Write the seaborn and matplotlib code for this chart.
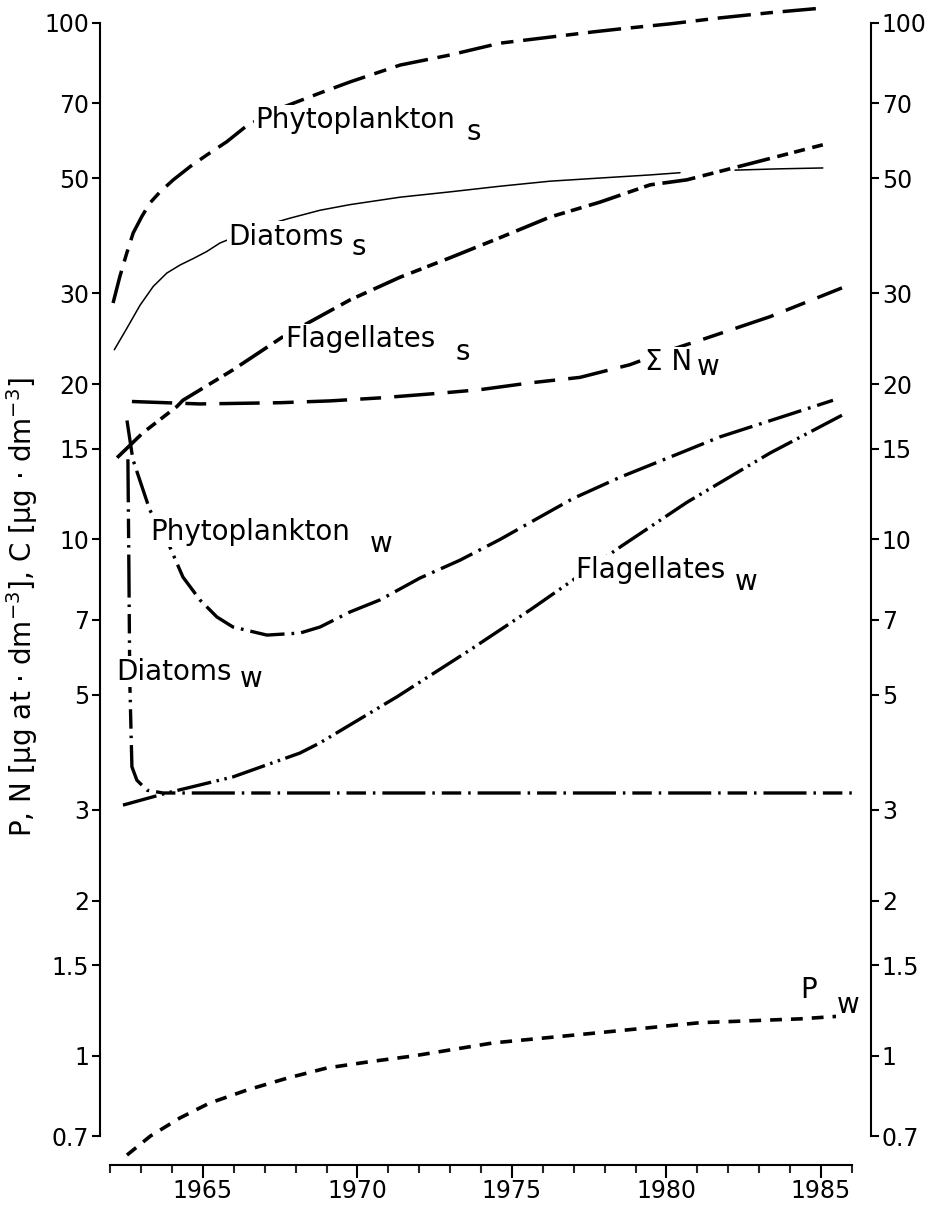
import matplotlib
matplotlib.use("Agg")
import numpy as np
import matplotlib.pyplot as plt
import seaborn as sns
from matplotlib.ticker import FixedLocator, FixedFormatter, NullLocator

# ---------------- data ----------------
phyto_s_year = [1962.09, 1962.31, 1962.53, 1962.74, 1963.02, 1963.28, 1963.61, 1964.04,
                1964.58, 1965.12, 1965.77, 1966.41, 1967.59, 1968.79, 1969.76, 1971.38,
                1972.99, 1974.61, 1976.23, 1977.62, 1978.50, 1980.10, 1981.73, 1983.35,
                1985.13]
phyto_s_val = [28.7, 32.3, 35.8, 39.2, 42.2, 44.8, 47.1, 49.7,
               52.7, 55.5, 58.9, 63.2, 68.7, 73.2, 76.9, 82.9,
               86.7, 91.4, 93.9, 96.1, 97.4, 99.6, 102.3, 104.7,
               107.0]

diatoms_s_year = [1962.13, 1962.53, 1962.96, 1963.39, 1963.83, 1964.26, 1964.69, 1965.12,
                  1965.55, 1966.84, 1967.82, 1968.79, 1969.76, 1971.38, 1972.99, 1974.61,
                  1976.23, 1977.85, 1979.47, 1980.44, np.nan, 1982.22, 1983.67, 1985.06]
diatoms_s_val = [23.3, 25.6, 28.4, 30.9, 32.8, 34.0, 35.0, 36.1,
                 37.5, 40.3, 41.9, 43.4, 44.5, 46.0, 47.1, 48.3,
                 49.4, 50.1, 50.8, 51.3, np.nan, 51.9, 52.2, 52.4]

flag_s_year = [1962.22, 1963.06, 1964.16, 1964.35, 1965.97, 1967.59, 1969.76, 1971.38,
               1972.99, 1974.61, 1976.23, 1977.85, 1979.47, 1980.66, 1982.80, 1985.06]
flag_s_val = [14.4, 16.1, 18.1, 18.6, 21.3, 24.7, 29.1, 32.2,
              35.1, 38.4, 42.1, 45.0, 48.6, 49.7, 53.6, 58.1]

sum_n_year = [1962.70, 1964.90, 1967.49, 1969.11, 1970.73, 1972.67, 1973.96, 1975.58,
              1977.20, 1978.82, 1979.95, 1981.08, 1983.35, 1985.68]
sum_n_val = [18.5, 18.3, 18.4, 18.55, 18.8, 19.2, 19.5, 20.1,
             20.6, 21.8, 23.1, 24.3, 27.0, 30.7]

phyto_w_year = [1962.54, 1962.73, 1962.96, 1963.28, 1963.83, 1964.35, 1964.90, 1965.45,
                1965.97, 1967.07, 1968.14, 1968.79, 1969.76, 1970.73, 1972.02, 1973.32,
                1974.61, 1975.90, 1976.97, 1978.50, 1980.44, 1981.73, 1983.90, 1985.39]
phyto_w_val = [17.0, 14.3, 13.0, 11.4, 9.98, 8.46, 7.64, 7.08,
               6.77, 6.53, 6.59, 6.77, 7.24, 7.64, 8.42, 9.12,
               10.0, 11.05, 12.0, 13.2, 14.7, 15.8, 17.4, 18.6]

flag_w_year = [1962.41, 1963.83, 1965.97, 1968.14, 1968.79, 1971.28, 1973.64, 1975.58,
               1976.88, 1978.50, 1980.66, 1983.35, 1985.68]
flag_w_val = [3.06, 3.23, 3.47, 3.86, 4.04, 4.96, 6.11, 7.30,
              8.27, 9.67, 11.8, 14.7, 17.4]

diatoms_w_year = [1962.57, 1962.60, 1962.63, 1962.70, 1962.86, 1963.19, 1963.71, 1974.61, 1986.17]
diatoms_w_val = [14.3, 9.12, 5.35, 3.63, 3.42, 3.27, 3.23, 3.23, 3.23]

p_w_year = [1962.54, 1963.30, 1964.26, 1965.20, 1966.42, 1967.70, 1969.01, 1970.40,
            1971.80, 1974.39, 1977.85, 1981.08, 1984.32, 1985.68]
p_w_val = [0.643, 0.700, 0.759, 0.810, 0.859, 0.905, 0.948, 0.975,
           1.00, 1.06, 1.11, 1.16, 1.18, 1.195]

y_ticks = [0.7, 1, 1.5, 2, 3, 5, 7, 10, 15, 20, 30, 50, 70, 100]
y_tick_labels = ["0.7", "1", "1.5", "2", "3", "5", "7", "10", "15", "20", "30", "50", "70", "100"]
x_major = [1965, 1970, 1975, 1980, 1985]
x_minor = list(range(1962, 1987))
y_label = "P, N [µg at · dm$^{-3}$], C [µg · dm$^{-3}$]"

# ---------------- style ----------------
sns.set_theme(style="ticks")
plt.rcParams["font.family"] = ["DejaVu Sans"]
plt.rcParams["mathtext.fontset"] = "dejavusans"
plt.rcParams["lines.scale_dashes"] = False
plt.rcParams["axes.linewidth"] = 1.5

fig = plt.figure(figsize=(9.32, 12.10), dpi=100)
W, H = 932, 1210
ax = fig.add_axes([100 / W, 1 - 1136 / H, 771 / W, 1113 / H])
ax.set_yscale("log")
ax.set_xlim(1961.667, 1986.62)
ax.set_ylim(0.7, 100)

series = [
    (phyto_s_year, phyto_s_val, (0, (24, 7, 9, 7)), 2.5),
    (diatoms_s_year, diatoms_s_val, "-", 1.1),
    (flag_s_year, flag_s_val, (0, (24, 5.5, 8, 4.5, 8, 5.5)), 2.6),
    (sum_n_year, sum_n_val, (0, (29, 9.5, 15, 9.5)), 2.5),
    (phyto_w_year, phyto_w_val, (0, (25, 5, 2, 5)), 2.4),
    (flag_w_year, flag_w_val, (0, (25, 4, 1.8, 4, 1.8, 4)), 2.4),
    (diatoms_w_year, diatoms_w_val, (0, (31, 5, 1.8, 5, 14, 5, 1.8, 5)), 2.4),
    (p_w_year, p_w_val, (0, (8.5, 6.5)), 2.6),
]

for xs, ys, ls, lw in series:
    xs = np.asarray(xs, dtype=float)
    ys = np.asarray(ys, dtype=float)
    # split at NaN breaks (gaps in the drawn curve)
    breaks = np.where(np.isnan(xs))[0]
    starts = np.concatenate(([0], breaks + 1))
    ends = np.concatenate((breaks, [len(xs)]))
    for s, e in zip(starts, ends):
        sns.lineplot(x=xs[s:e], y=ys[s:e], ax=ax, color="black", linewidth=lw,
                     linestyle=ls, estimator=None, sort=False, clip_on=False,
                     zorder=2)

# ---------------- labels ----------------
lab_kw = dict(fontsize=20, ha="left", va="baseline", color="black", zorder=5,
              bbox=dict(facecolor="white", edgecolor="none", pad=1.0))
labels = [
    ("Phytoplankton", (1966.68, 62.6)), ("s", (1973.54, 59.4)),
    ("Diatoms", (1965.81, 37.2)), ("s", (1969.80, 35.5)),
    ("Flagellates", (1967.65, 23.6)), ("s", (1973.16, 22.3)),
    ("Σ N", (1979.30, 21.3)), ("w", (1980.98, 20.8)),
    ("Phytoplankton", (1963.28, 9.98)), ("w", (1970.40, 9.46)),
    ("Flagellates", (1977.04, 8.42)), ("w", (1982.20, 7.99)),
    ("Diatoms", (1962.20, 5.35)), ("w", (1966.20, 5.18)),
    ("P", (1984.32, 1.295)), ("w", (1985.52, 1.21)),
]
for txt, (lx, ly) in labels:
    ax.text(lx, ly, txt, **lab_kw)

# ---------------- axes ----------------
ax.spines["top"].set_visible(False)
ax.spines["bottom"].set_position(("outward", 20.9))
ax.spines["bottom"].set_bounds(1962, 1986)
for sp in ax.spines.values():
    sp.set_color("black")
    sp.set_linewidth(1.5)

ax.yaxis.set_major_locator(FixedLocator(y_ticks))
ax.yaxis.set_major_formatter(FixedFormatter(y_tick_labels))
ax.yaxis.set_minor_locator(NullLocator())
ax.tick_params(axis="y", which="major", direction="out", length=5.8, width=1.5,
               labelsize=17, pad=2, left=True, right=True, labelleft=True,
               labelright=True, colors="black")

ax.xaxis.set_major_locator(FixedLocator(x_major))
ax.xaxis.set_minor_locator(FixedLocator([y for y in x_minor if y not in x_major]))
ax.set_xticklabels([str(v) for v in x_major])
ax.tick_params(axis="x", which="major", direction="out", length=9.4, width=1.5,
               labelsize=17, pad=0.5, colors="black")
ax.tick_params(axis="x", which="minor", direction="out", length=6, width=1.5)

ax.set_xlabel("")
ax.set_ylabel("")
fig.text(22 / W, 1 - 607 / H, y_label, rotation=90, ha="center", va="center",
         fontsize=20, color="black")

fig.savefig("out.png", dpi=100, facecolor="white")
